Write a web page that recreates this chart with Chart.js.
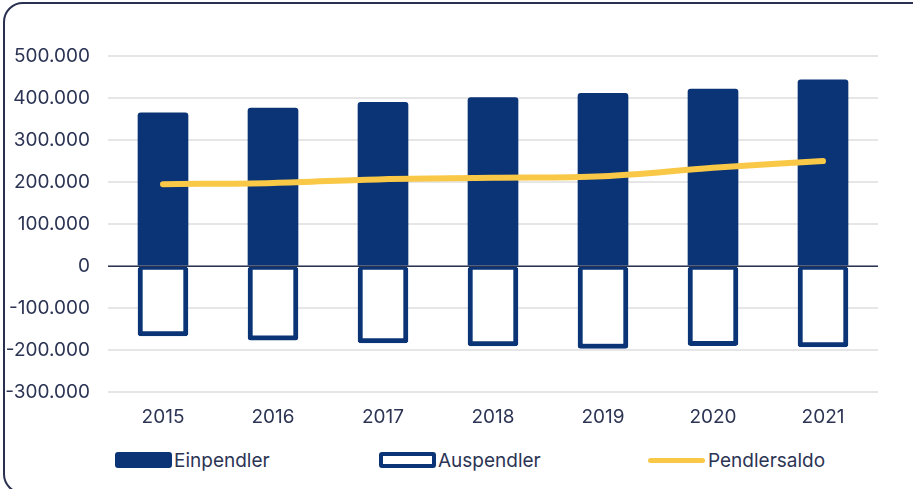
<!DOCTYPE html>
<html lang="de">
<head>
<meta charset="utf-8">
<title>Pendler</title>
<script src="https://cdn.jsdelivr.net/npm/chart.js@4.4.1/dist/chart.umd.min.js"></script>
<style>
  html, body { margin: 0; padding: 0; background: #fff; overflow: hidden; }
  body { width: 913px; height: 489px; position: relative; font-family: Inter, "Noto Sans", sans-serif; color: #2c3454; }
  .card { position: absolute; left: 3px; top: 2px; width: 960px; height: 492px; border: 2px solid #2a3150; border-radius: 20px; box-sizing: border-box; }
  .chart-wrap { position: absolute; left: 0; top: 0; width: 913px; height: 448px; }
  .legend { position: absolute; top: 450px; left: 0; width: 913px; height: 20px; font-size: 19px; }
  .legend .item { position: absolute; top: 0; display: flex; align-items: center; height: 20px; }
  .legend .box { width: 57px; height: 16px; border-radius: 3px; box-sizing: border-box; margin-right: 2px; }
  .legend .stroke { width: 57px; height: 5px; border-radius: 3px; margin-right: 3px; }
</style>
</head>
<body>
<div class="card"></div>
<div class="chart-wrap"><canvas id="pendlerChart"></canvas></div>
<div class="legend" id="legend"></div>

<script>
// Data
const years = ['2015', '2016', '2017', '2018', '2019', '2020', '2021'];
const einpendler = [365000, 376000, 390000, 401000, 411000, 421000, 443000];
const auspendler = [-166000, -176000, -183000, -190000, -196000, -189000, -192000];
const pendlersaldo = [195000, 198000, 207000, 210000, 214000, 234000, 250000];

const NAVY = '#0a3476';
const YELLOW = '#f9c846';
const TEXT = '#2c3454';

// German thousands separator
function formatDe(v) {
    const s = Math.abs(v).toString().replace(/\B(?=(\d{3})+(?!\d))/g, '.');
    return (v < 0 ? '-' : '') + s;
}

// zero line on top of the bars
const zeroLine = {
    id: 'zeroLine',
    afterDatasetsDraw(chart) {
        const y = chart.scales.y.getPixelForValue(0);
        const ctx = chart.ctx;
        ctx.save();
        ctx.strokeStyle = '#2c3454';
        ctx.lineWidth = 1.5;
        ctx.beginPath();
        ctx.moveTo(chart.chartArea.left, y);
        ctx.lineTo(chart.chartArea.right, y);
        ctx.stroke();
        ctx.restore();
    }
};

let pendlerChart;

function initChart() {
    const ctx = document.getElementById('pendlerChart').getContext('2d');
    pendlerChart = new Chart(ctx, {
        type: 'bar',
        data: {
            labels: years,
            datasets: [{
                type: 'line',
                label: 'Pendlersaldo',
                data: pendlersaldo,
                borderColor: YELLOW,
                borderWidth: 6,
                borderCapStyle: 'round',
                pointRadius: 0,
                tension: 0.35,
                order: 0
            }, {
                label: 'Einpendler',
                data: einpendler,
                backgroundColor: NAVY,
                borderWidth: 0,
                borderRadius: 3,
                barThickness: 50,
                grouped: false,
                order: 1
            }, {
                label: 'Auspendler',
                data: auspendler,
                backgroundColor: '#ffffff',
                borderColor: NAVY,
                borderWidth: { top: 3, left: 5, right: 5, bottom: 5 },
                borderSkipped: false,
                borderRadius: 3,
                barThickness: 50,
                grouped: false,
                order: 2
            }]
        },
        options: {
            responsive: true,
            maintainAspectRatio: false,
            animation: false,
            layout: { padding: { top: 56, right: 35, bottom: 5, left: 0 } },
            plugins: {
                legend: { display: false },
                tooltip: { enabled: false }
            },
            scales: {
                x: {
                    grid: { display: false, drawTicks: false },
                    border: { display: false },
                    ticks: { color: TEXT, padding: 14, font: { family: 'Inter', size: 19 } }
                },
                y: {
                    min: -300000,
                    max: 500000,
                    afterFit(scale) { scale.width = 108; },
                    grid: { color: '#e6e6e6', lineWidth: 2, drawTicks: false },
                    border: { display: false },
                    ticks: {
                        stepSize: 100000,
                        color: TEXT,
                        padding: 18,
                        font: { family: 'Inter', size: 19 },
                        callback: (v) => formatDe(v)
                    }
                }
            }
        },
        plugins: [zeroLine]
    });
}

// HTML legend, three evenly spaced entries
function buildLegend() {
    const legend = document.getElementById('legend');
    const items = [
        { text: 'Einpendler', left: 115, kind: 'fill' },
        { text: 'Auspendler', left: 379, kind: 'outline' },
        { text: 'Pendlersaldo', left: 648, kind: 'line' }
    ];
    items.forEach(it => {
        const el = document.createElement('div');
        el.className = 'item';
        el.style.left = it.left + 'px';
        const sw = document.createElement('span');
        if (it.kind === 'line') {
            sw.className = 'stroke';
            sw.style.background = YELLOW;
        } else {
            sw.className = 'box';
            sw.style.background = it.kind === 'fill' ? NAVY : '#fff';
            if (it.kind === 'outline') sw.style.border = '4px solid ' + NAVY;
        }
        const label = document.createElement('span');
        label.textContent = it.text;
        el.appendChild(sw);
        el.appendChild(label);
        legend.appendChild(el);
    });
}

document.addEventListener('DOMContentLoaded', () => {
    buildLegend();
    initChart();
});
</script>
</body>
</html>
